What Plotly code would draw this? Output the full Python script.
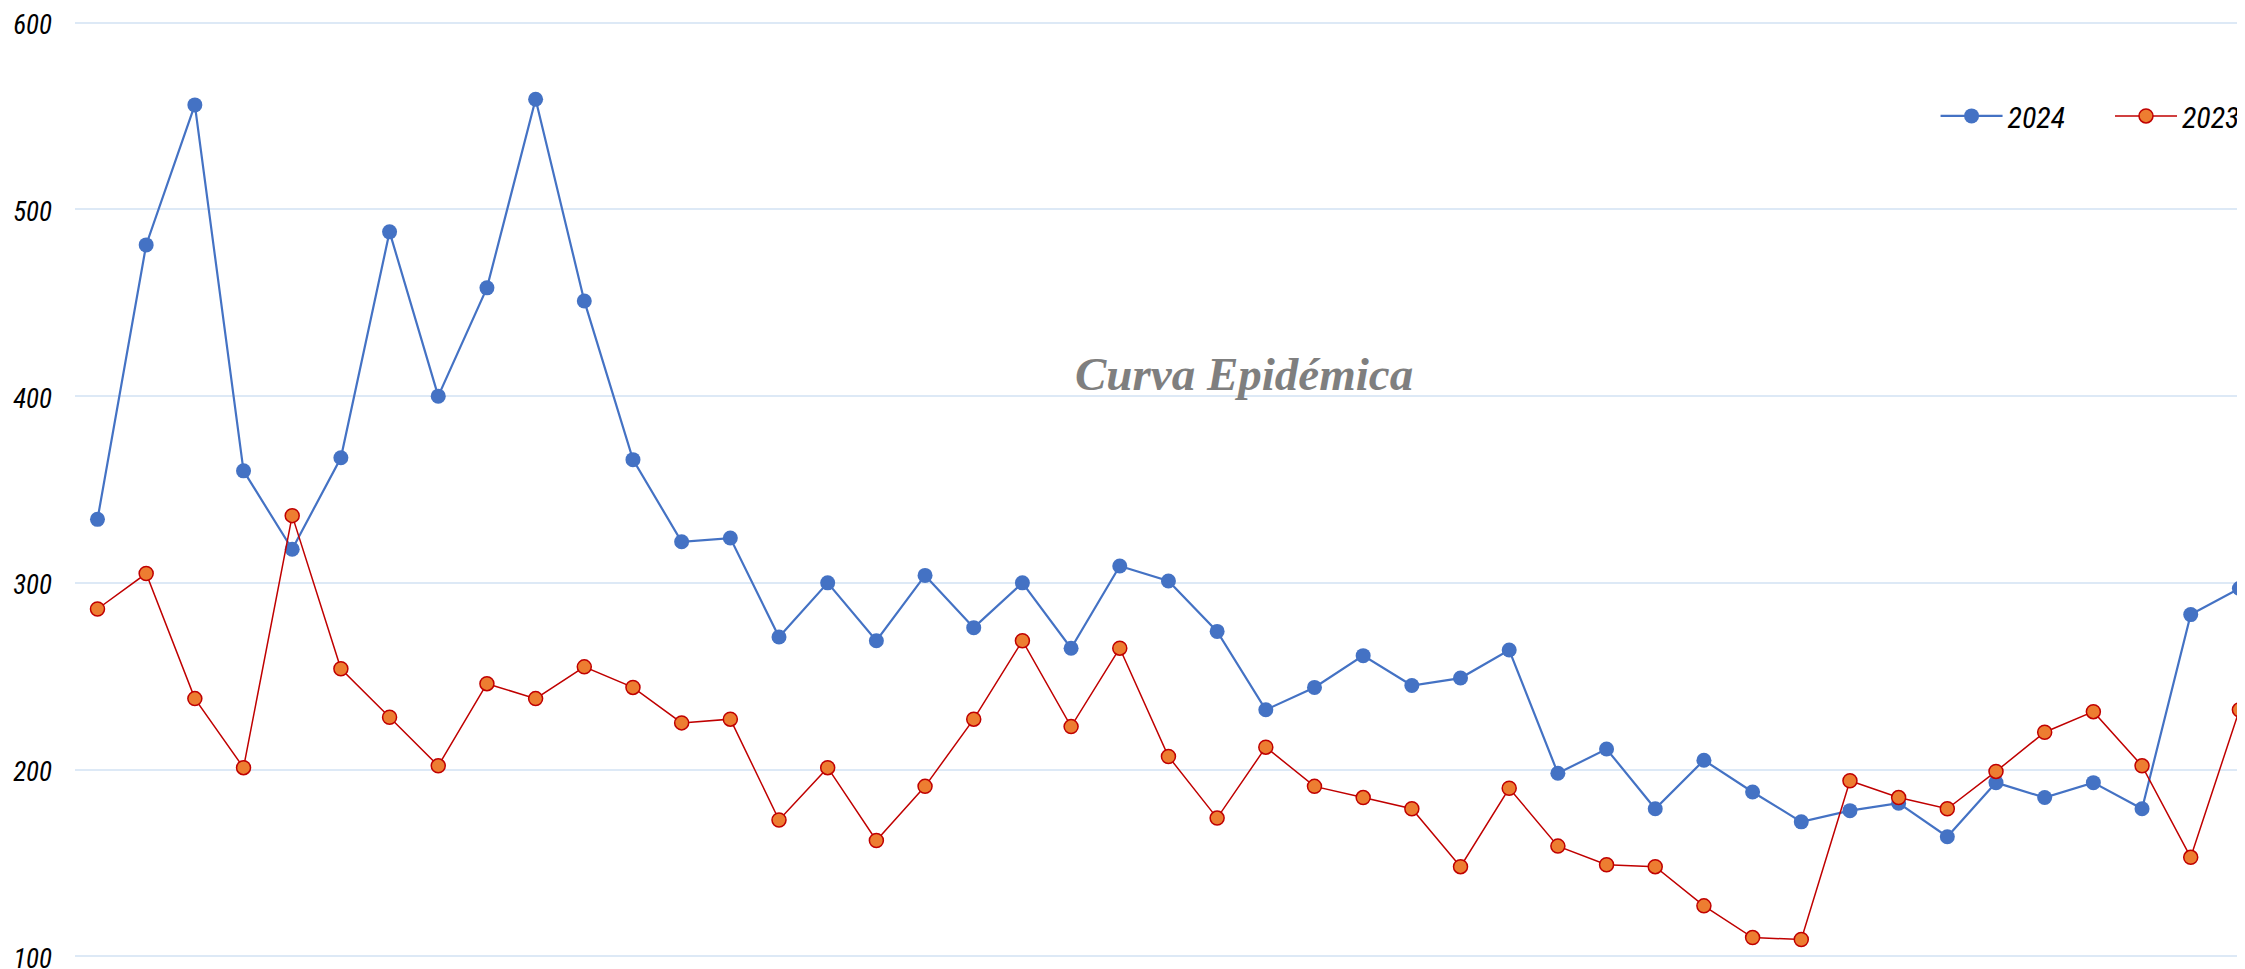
import plotly.graph_objects as go

weeks = list(range(1, 47))
cases_2024 = [334, 481, 556, 360, 318, 367, 488, 400, 458, 559, 451, 366, 322, 324, 271, 300,
              269, 304, 276, 300, 265, 309, 301, 274, 232, 244, 261, 245, 249, 264, 198, 211,
              179, 205, 188, 172, 178, 182, 164, 193, 185, 193, 179, 283, 297, 259]
cases_2023 = [286, 305, 238, 201, 336, 254, 228, 202, 246, 238, 255, 244, 225, 227, 173, 201,
              162, 191, 227, 269, 223, 265, 207, 174, 212, 191, 185, 179, 148, 190, 159, 149,
              148, 127, 110, 109, 194, 185, 179, 199, 220, 231, 202, 153, 232, 309]
y_ticks = [100, 200, 300, 400, 500, 600]
title_text = "Curva Epidémica"

FONT = "Roboto Condensed, Arial Narrow, Liberation Sans, sans-serif"

fig = go.Figure()
fig.add_trace(go.Scatter(
    x=weeks, y=cases_2024, name="2024", mode="lines+markers", legend="legend",
    line=dict(color="#4472C4", width=2.2),
    marker=dict(color="#4472C4", size=15, line=dict(width=0)),
))
fig.add_trace(go.Scatter(
    x=weeks, y=cases_2023, name="2023", mode="lines+markers", legend="legend2",
    line=dict(color="#C00000", width=1.5),
    marker=dict(color="#ED7D31", size=14, line=dict(color="#C00000", width=1.5)),
))

fig.add_annotation(
    text=title_text, xref="paper", yref="paper", x=0.5387, y=0.6227,
    showarrow=False, xanchor="center", yanchor="middle",
    font=dict(family="Liberation Serif, DejaVu Serif, serif", size=47, color="#7F7F7F",
              style="italic", weight="bold"),
)

legend_common = dict(
    orientation="h", y=0.897, yanchor="middle",
    font=dict(family=FONT, size=30, color="black", style="italic"),
    bgcolor="rgba(0,0,0,0)", itemwidth=62,
)

fig.update_layout(
    width=2237, height=961,
    margin=dict(l=67, r=0, t=11, b=9),
    paper_bgcolor="white", plot_bgcolor="white",
    showlegend=True,
    legend=dict(x=0.8574, xanchor="left", **legend_common),
    legend2=dict(x=1.0, xanchor="right", **legend_common),
    xaxis=dict(range=[1 - 0.462, 1 + 44.115], showgrid=False, showticklabels=False,
               zeroline=False, showline=False, ticks="", automargin=False),
    yaxis=dict(range=[98, 602], tickvals=y_ticks, showgrid=True, gridcolor="#DDE9F6",
               gridwidth=2, zeroline=False, showline=False, ticks="", automargin=False,
               ticklabelstandoff=22, ticklabeloverflow="allow", ticklabelshift=2,
               tickfont=dict(family=FONT, size=27, color="black", style="italic")),
)

fig.write_html("out.html")
